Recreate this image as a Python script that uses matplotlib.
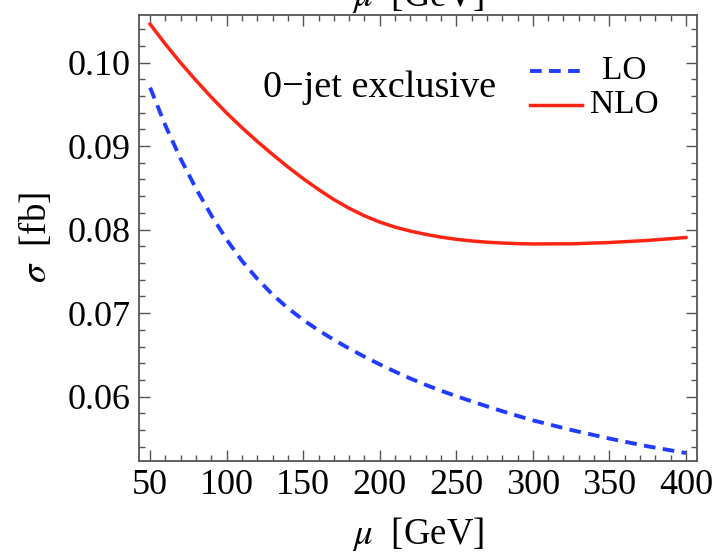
import matplotlib
matplotlib.use("Agg")
import matplotlib.pyplot as plt
from matplotlib.ticker import MultipleLocator, FormatStrFormatter
from matplotlib.lines import Line2D

# Renormalisation scale mu [GeV]
mu = [50, 60, 70, 80, 90, 100, 110, 120, 130, 140, 150, 160, 170, 180, 190,
      200, 210, 220, 230, 240, 250, 260, 270, 280, 290, 300,
      325, 350, 375, 400]

# Cross sections sigma [fb]
sigma_lo = [0.0970, 0.09245, 0.08845, 0.0849, 0.0817, 0.0788, 0.07625, 0.0741,
            0.07222, 0.07059, 0.06919, 0.06794, 0.06681, 0.06576, 0.06478,
            0.06386, 0.06299, 0.06217, 0.06141, 0.06071, 0.06006, 0.05944,
            0.05884, 0.05826, 0.05770, 0.05716,
            0.05601, 0.05498, 0.05405, 0.05325]
sigma_nlo = [0.1046, 0.1022, 0.09995, 0.09785, 0.09585, 0.09395, 0.0922, 0.09055,
             0.0890, 0.0875, 0.0861, 0.0848, 0.0836, 0.08255, 0.08165,
             0.0809, 0.0803, 0.07982, 0.07943, 0.0791, 0.07884, 0.07864,
             0.07849, 0.07839, 0.07832, 0.07828,
             0.0783, 0.07845, 0.0787, 0.07905]

x_ticks = [50, 100, 150, 200, 250, 300, 350, 400]
y_ticks = [0.06, 0.07, 0.08, 0.09, 0.10]
series_names = ["LO", "NLO"]

plt.rcParams["font.family"] = ["Liberation Serif", "DejaVu Serif"]
plt.rcParams["mathtext.fontset"] = "stix"

fig = plt.figure(figsize=(7.17, 5.54), dpi=100)
ax = fig.add_axes([0.194, 0.168, 0.778, 0.805])

blue = "#1f3cff"
red = "#ff2414"
lo_dash = (3.0, 1.9)
ax.plot(mu, sigma_lo, color=blue, lw=2.8, dashes=lo_dash)
ax.plot(mu, sigma_nlo, color=red, lw=2.5)

ax.set_xlim(42.8, 407.2)
ax.set_ylim(0.0523, 0.1057)
ax.set_xticks(x_ticks)
ax.set_yticks(y_ticks)
ax.yaxis.set_major_formatter(FormatStrFormatter("%.2f"))
ax.xaxis.set_minor_locator(MultipleLocator(10))
ax.yaxis.set_minor_locator(MultipleLocator(0.002))

frame = "#555555"
for s in ax.spines.values():
    s.set_color(frame)
    s.set_linewidth(1.3)
ax.tick_params(which="both", direction="in", top=True, right=True,
               color=frame, width=1.0)
ax.tick_params(which="major", length=8, labelsize=26, pad=6)
ax.tick_params(which="minor", length=4)

ax.set_xlabel(r"$\mu$  [GeV]", fontsize=26.5, labelpad=9)
ax.set_ylabel(r"$\sigma$  [fb]", fontsize=26.5, labelpad=10)

# frame label on the top edge
ax.text(0.5, 1.0, r"$\mu$  [GeV]", transform=ax.transAxes, fontsize=26.5,
        ha="center", va="bottom")

ax.text(0.222, 0.836, "0\u2212jet exclusive", transform=ax.transAxes,
        fontsize=27.5, ha="left", va="center")

# legend: line samples with centred labels
leg_x0, leg_x1, leg_tx = 0.701, 0.794, 0.869
leg_y = [0.874, 0.798]
ax.add_line(Line2D([leg_x0, leg_x1], [leg_y[0]] * 2, transform=ax.transAxes,
                   color=blue, lw=2.8, dashes=lo_dash))
ax.add_line(Line2D([leg_x0, leg_x1], [leg_y[1]] * 2, transform=ax.transAxes,
                   color=red, lw=2.5))
for name, yy in zip(series_names, leg_y):
    ax.text(leg_tx, yy, name, transform=ax.transAxes, fontsize=24,
            ha="center", va="center")

fig.savefig("out.png", dpi=100)
